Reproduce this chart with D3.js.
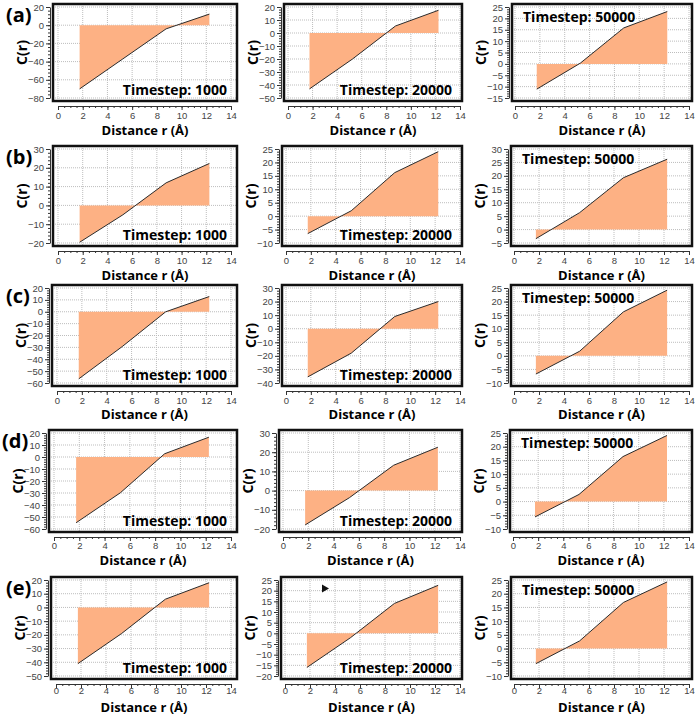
<!DOCTYPE html>
<html>
<head>
<meta charset="utf-8">
<script src="https://cdn.jsdelivr.net/npm/d3@7"></script>
<style>
  body { margin: 0; background: #fff; }
  text { font-family: "Open Sans", "Liberation Sans", sans-serif; }
</style>
</head>
<body>
<svg width="696" height="716"></svg>
<script>
// ---- data ----
const rVals = [1.75, 5.25, 8.75, 12.25];
const timesteps = [1000, 20000, 50000];
const rowLabels = ['(a)', '(b)', '(c)', '(d)', '(e)'];

// C(r) per row, one list per timestep (1000, 20000, 50000)
const rowA = [[-70, -37, -4, 12.2], [-43, -20, 5.4, 17.5], [-11.1, 0.3, 15.8, 23]];
const rowB = [[-19.6, -5, 12, 22.3], [-6.5, 2, 16.2, 24], [-3.4, 6.3, 19.3, 26.2]];
const rowC = [[-56.5, -29.3, 0, 12.8], [-35.5, -18, 9, 20], [-6.7, 1.7, 16.2, 24.2]];
const rowD = [[-54.8, -29.8, 2.7, 16.5], [-17.9, -3.7, 13.2, 22.6], [-5.6, 2.6, 16.4, 24.1]];
const rowE = [[-41, -19, 6, 18], [-16, -2, 14, 22.5], [-5.5, 2.8, 16.8, 24.3]];

// y axis ticks: [min, max, step]
const yTicksA = [[-80, 20, 20], [-50, 20, 10], [-15, 25, 5]];
const yTicksB = [[-20, 30, 10], [-10, 25, 5], [-5, 30, 5]];
const yTicksC = [[-60, 20, 10], [-40, 30, 10], [-10, 25, 5]];
const yTicksD = [[-60, 20, 10], [-20, 30, 10], [-10, 25, 5]];
const yTicksE = [[-50, 20, 10], [-20, 25, 5], [-10, 25, 5]];
const xTicks = [0, 2, 4, 6, 8, 10, 12, 14];

const rows = [rowA, rowB, rowC, rowD, rowE];
const yTicks = [yTicksA, yTicksB, yTicksC, yTicksD, yTicksE];

// ---- layout ----
const rowTop = [4, 146, 285, 430, 577];
const rowBottom = [101, 246, 386, 532, 679];
const xLabelGap = [18, 18, 18, 17, 15];
const titleGap = [34, 34, 33, 33, 33];
const boxLeft = [[53, 284, 512], [53, 282, 511], [52, 282, 511], [49, 279, 510], [51, 281, 511]];
const boxRight = [237, 462, 692];
const xPad = [5, 4, 3];
const xEnd = [231, 460, 689];
const fillColor = '#fdb184';

const svg = d3.select('svg');

rows.forEach((row, ri) => {
  row.forEach((vals, ci) => {
    const x0 = boxLeft[ri][ci], x1 = boxRight[ci];
    const y0 = rowTop[ri], y1 = rowBottom[ri];
    const [ymin, ymax, ystep] = yTicks[ri][ci];

    const x = d3.scaleLinear().domain([0, 14]).range([x0 + xPad[ci], xEnd[ci]]);
    const y = d3.scaleLinear().domain([ymin, ymax]).range([y1 - 3, y0 + 3]);
    const g = svg.append('g');

    const majorY = d3.range(ymin, ymax + 1e-6, ystep);
    const minorY = d3.range(ymin, ymax + 1e-6, ystep / 5);

    // grid
    g.selectAll('.gx').data(xTicks).enter().append('line')
      .attr('x1', d => x(d)).attr('x2', d => x(d))
      .attr('y1', y0).attr('y2', y1)
      .attr('stroke', '#bdbdbd').attr('stroke-dasharray', '1,1');
    g.selectAll('.gy').data(majorY).enter().append('line')
      .attr('x1', x0).attr('x2', x1)
      .attr('y1', d => y(d)).attr('y2', d => y(d))
      .attr('stroke', '#bdbdbd').attr('stroke-dasharray', '1,1');

    const pts = rVals.map((r, i) => [r, vals[i]]);
    const area = d3.area().x(d => x(d[0])).y0(y(0)).y1(d => y(d[1]));
    const line = d3.line().x(d => x(d[0])).y(d => y(d[1]));
    g.append('path').attr('d', area(pts)).attr('fill', fillColor);
    g.append('path').attr('d', line(pts))
      .attr('fill', 'none').attr('stroke', '#2b2b2b').attr('stroke-width', 1);

    // frame
    g.append('rect')
      .attr('x', x0).attr('y', y0)
      .attr('width', x1 - x0).attr('height', y1 - y0)
      .attr('fill', 'none').attr('stroke', '#111').attr('stroke-width', 2.5);

    // y axis
    const yAxisG = g.append('g').attr('transform', `translate(${x0 - 3},0)`);
    yAxisG.call(d3.axisLeft(y).tickValues(majorY).tickSize(4).tickSizeOuter(0).tickPadding(2));
    const yMinor = g.append('g').attr('transform', `translate(${x0 - 3},0)`)
      .call(d3.axisLeft(y).tickValues(minorY).tickSize(2).tickFormat(''));
    yMinor.select('.domain').remove();

    // x axis
    const xAxisG = g.append('g').attr('transform', `translate(0,${y1 + 5})`);
    xAxisG.call(d3.axisBottom(x).tickValues(xTicks).tickSize(4).tickSizeOuter(0).tickPadding(2));
    const xMinor = g.append('g').attr('transform', `translate(0,${y1 + 5})`)
      .call(d3.axisBottom(x).tickValues(d3.range(0, 14.01, 0.5)).tickSize(2).tickFormat(''));
    xMinor.select('.domain').remove();
    xAxisG.selectAll('.tick text').attr('y', xLabelGap[ri] - 5).attr('dy', null);

    [yAxisG, xAxisG, yMinor, xMinor].forEach(a => {
      a.selectAll('line').attr('stroke', '#333');
      a.selectAll('.domain').attr('stroke', '#333');
      a.selectAll('text').attr('fill', '#444').style('font-size', '9.5px')
        .style('font-family', '"Liberation Sans", sans-serif');
    });

    // labels
    g.append('text')
      .attr('x', (x0 + x1) / 2).attr('y', y1 + titleGap[ri])
      .attr('text-anchor', 'middle')
      .style('font-size', '13px').style('font-weight', 700)
      .text('Distance r (Å)');
    g.append('text')
      .attr('transform', `translate(${x0 - 31},${(y0 + y1) / 2}) rotate(-90)`)
      .attr('text-anchor', 'middle').attr('dy', '0.35em')
      .style('font-size', '14px').style('font-weight', 700)
      .text('C(r)');

    const ts = g.append('text')
      .style('font-size', '14px').style('font-weight', 700)
      .text('Timestep: ' + timesteps[ci]);
    if (ci === 2) {
      ts.attr('x', x0 + 11).attr('y', y0 + 18);
    } else {
      ts.attr('x', x1 - 10).attr('y', y1 - 6).attr('text-anchor', 'end');
    }

    if (ci === 0) {
      svg.append('text')
        .attr('x', ri === 3 ? 2 : 6).attr('y', y0 + 18)
        .style('font-size', '20px').style('font-weight', 700)
        .text(rowLabels[ri]);
    }

    // stray mouse pointer in panel (e) 20000
    if (ri === 4 && ci === 1) {
      const cx = x(3.2), cy = y(21);
      g.append('path')
        .attr('d', `M${cx - 3},${cy - 4}L${cx + 4},${cy}L${cx - 3},${cy + 4}Z`)
        .attr('fill', '#111');
    }
  });
});
</script>
</body>
</html>
